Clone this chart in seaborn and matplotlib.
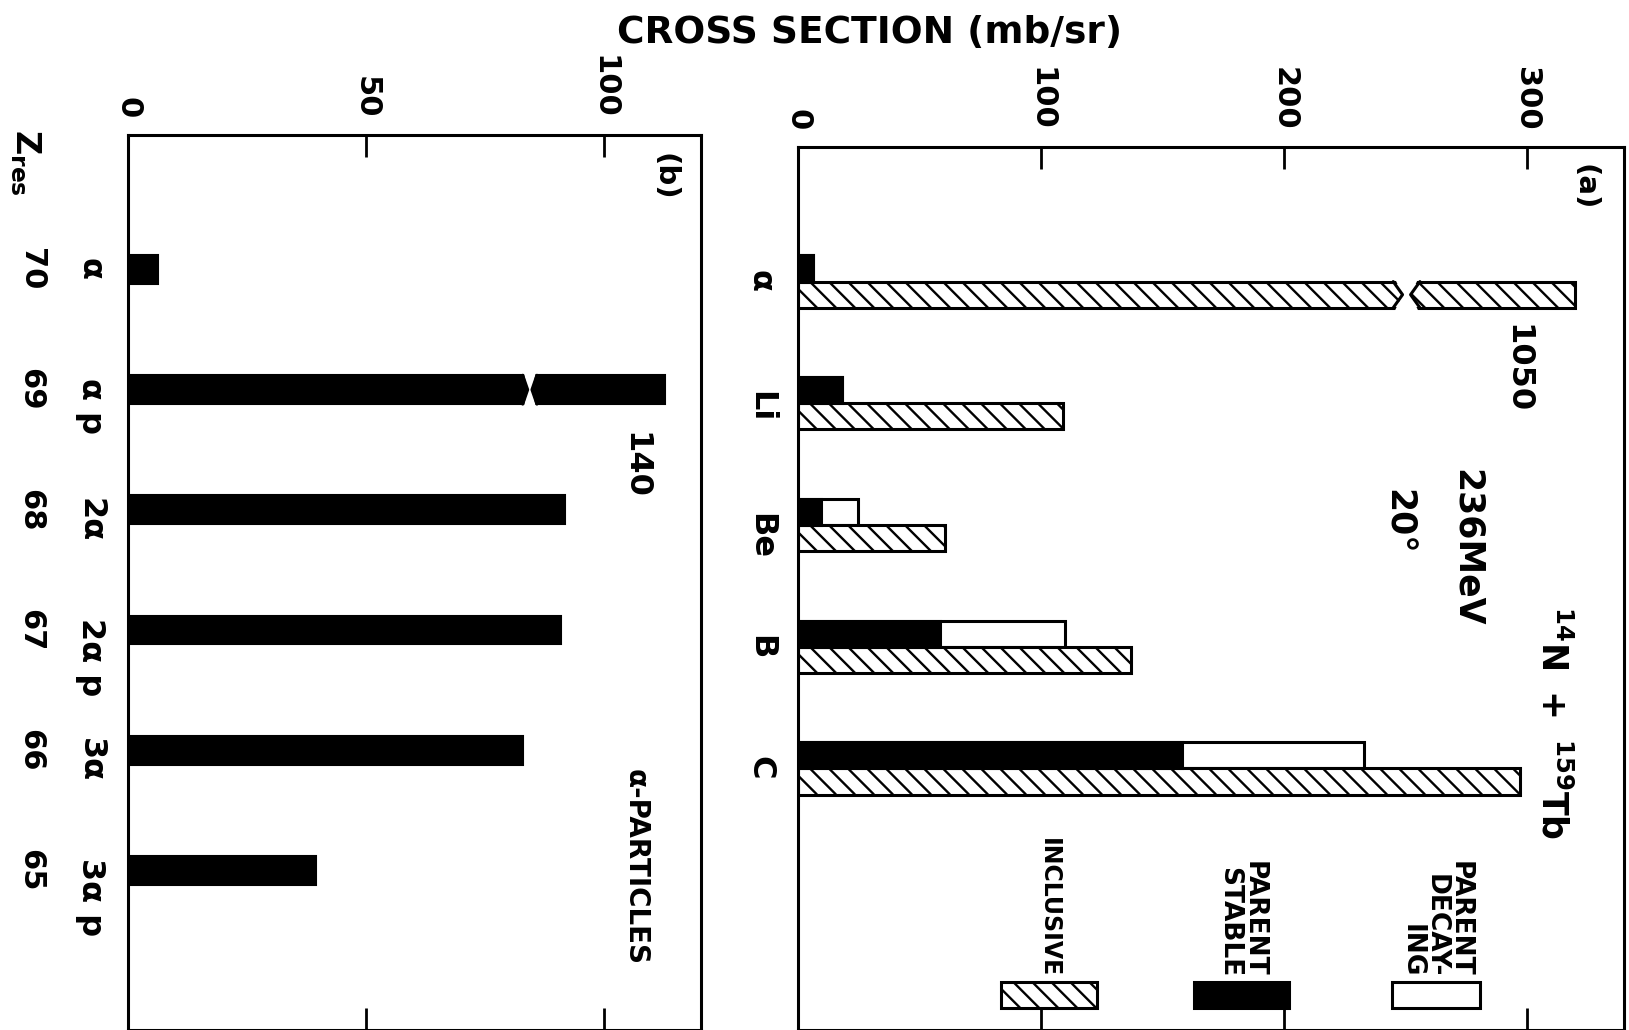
import numpy as np
import pandas as pd
import matplotlib
matplotlib.use("Agg")
import matplotlib.pyplot as plt
import seaborn as sns
from matplotlib.patches import Rectangle, Polygon
from matplotlib.lines import Line2D
from matplotlib.transforms import blended_transform_factory, IdentityTransform

# ---------------- data ----------------
ejectiles = ["α", "Li", "Be", "B", "C"]
inclusive = [320, 109, 60.5, 137, 297]      # α bar broken; true value 1050
parent_stable = [6, 18, 9.5, 58.5, 158]
parent_total = [6, 18, 24.5, 110, 233]      # stable + decaying
a_break = [245, 256]
a_true = "1050"

channels = ["α", "α p", "2α", "2α p", "3α", "3α p"]
z_res = ["70", "69", "68", "67", "66", "65"]
alpha_xs = [6.4, 113, 92, 91, 83, 39.5]     # αp bar broken; true value 140
b_break = [83, 86]
b_true = "140"

a_ticks = [0, 100, 200, 300]
b_ticks = [0, 50, 100]

# ---------------- style ----------------
sns.set_theme(style="white")
plt.rcParams["font.family"] = ["DejaVu Sans"]
plt.rcParams["font.weight"] = "bold"
plt.rcParams["mathtext.default"] = "regular"
plt.rcParams["text.color"] = "black"
plt.rcParams["axes.edgecolor"] = "black"
plt.rcParams["axes.linewidth"] = 2.2

W, H = 1629, 1030
fig = plt.figure(figsize=(W / 100, H / 100), dpi=100)
fig.patch.set_facecolor("white")

ax_b = fig.add_axes([128 / W, 0.0, (701 - 128) / W, 1 - 135 / H])
ax_a = fig.add_axes([798 / W, 0.0, (1624 - 798) / W, 1 - 147 / H])

# ---------------- panel (a) ----------------
df_tot = pd.DataFrame({
    "ej": ejectiles * 2,
    "val": parent_total + inclusive,
    "kind": ["parent"] * len(ejectiles) + ["inclusive"] * len(ejectiles),
})
df_st = pd.DataFrame({"ej": ejectiles, "val": parent_stable, "kind": ["parent"] * len(ejectiles)})

hue_order = ["parent", "inclusive"]
n0 = len(ax_a.patches)
sns.barplot(data=df_tot, x="val", y="ej", hue="kind", hue_order=hue_order, order=ejectiles,
            dodge=True, width=0.43, palette={"parent": "white", "inclusive": "white"},
            edgecolor="black", linewidth=2.2, legend=False, ax=ax_a, errorbar=None)
tot_patches = ax_a.patches[n0:]
inc_bars = []
for p in tot_patches:
    yc = p.get_y() + p.get_height() / 2
    if yc > round(yc):
        inc_bars.append(p)
sns.barplot(data=df_st, x="val", y="ej", hue="kind", hue_order=hue_order, order=ejectiles,
            dodge=True, width=0.43, palette={"parent": "black", "inclusive": "black"},
            edgecolor="black", linewidth=2.2, legend=False, ax=ax_a, errorbar=None)

ax_a.set_xlim(0, 340)
ax_a.set_ylim(6.15, -1.106)

# ---------------- panel (b) ----------------
df_b = pd.DataFrame({"ch": channels, "val": alpha_xs})
nb = len(ax_b.patches)
sns.barplot(data=df_b, x="val", y="ch", order=channels, color="black", width=0.24,
            edgecolor="black", linewidth=1.5, ax=ax_b, errorbar=None)
b_patches = ax_b.patches[nb:]
ax_b.set_xlim(0, 120.5)
ax_b.set_ylim(6.33, -1.12)


def manual_hatch(ax, patch, spacing=19.0, lw=1.7):
    """Draw '\\' hatch lines (45 deg, pixel space) clipped to the patch."""
    tr = patch.get_transform()
    path = patch.get_path().transformed(tr)
    (x0, y0), (x1, y1) = path.get_extents().get_points()
    h = y1 - y0
    c = x0 - h
    while c < x1 + spacing:
        ln = Line2D([c, c + h], [y1, y0], transform=IdentityTransform(), color="black",
                    lw=lw, zorder=patch.get_zorder() + 0.1, solid_capstyle="butt")
        ax.add_line(ln)
        ln.set_clip_box(None)
        ln.set_clip_path(patch.get_path(), patch.get_transform())
        c += spacing


for p in inc_bars:
    manual_hatch(ax_a, p)


def draw_break(ax, bar, x0, x1):
    y0 = bar.get_y()
    h = bar.get_height()
    pad = h * 0.25
    d = (x1 - x0) * 0.35
    poly = Polygon([(x0, y0 - pad), (x1, y0 - pad), (x1 - d, y0 + h / 2), (x1, y0 + h + pad),
                    (x0, y0 + h + pad), (x0 + d, y0 + h / 2)],
                   closed=True, facecolor="white", edgecolor="none", zorder=5)
    ax.add_patch(poly)
    ax.plot([x0, x0 + d, x0], [y0, y0 + h / 2, y0 + h], color="black", lw=2.2, zorder=6)
    ax.plot([x1, x1 - d, x1], [y0, y0 + h / 2, y0 + h], color="black", lw=2.2, zorder=6)


alpha_inc = min(inc_bars, key=lambda p: p.get_y())
draw_break(ax_a, alpha_inc, a_break[0], a_break[1])
draw_break(ax_b, b_patches[1], b_break[0], b_break[1])

# ---------------- axes styling ----------------
for ax, ticks in ((ax_a, a_ticks), (ax_b, b_ticks)):
    ax.set_xlabel("")
    ax.set_ylabel("")
    ax.set_xticks(ticks)
    ax.set_xticklabels([str(t) for t in ticks])
    ax.xaxis.set_ticks_position("both")
    ax.tick_params(axis="x", which="both", top=True, bottom=True, labeltop=True, labelbottom=False,
                   direction="in", length=16, width=2.0, labelsize=22, labelrotation=-90, pad=12,
                   colors="black")
    ax.tick_params(axis="y", left=False, right=False, labelsize=23, labelrotation=-90, pad=10,
                   colors="black")
    for s in ax.spines.values():
        s.set_visible(True)
        s.set_color("black")
        s.set_linewidth(2.2)
    ax.set_facecolor("white")
    ax.grid(False)

for lab in ax_a.get_xticklabels() + ax_b.get_xticklabels():
    lab.set_verticalalignment("bottom")
    lab.set_fontweight("bold")
for lab in ax_a.get_yticklabels() + ax_b.get_yticklabels():
    lab.set_fontweight("bold")

# ---------------- texts ----------------
fig.text(0.534, 0.968, "CROSS SECTION (mb/sr)", fontsize=27, ha="center", va="center")
fig.text(0.0153, 0.842, "$Z_{res}$", fontsize=24, ha="center", va="center", rotation=-90)
tb = blended_transform_factory(fig.transFigure, ax_b.transData)
for i, z in enumerate(z_res):
    fig.text(0.0191, i, z, fontsize=22, ha="center", va="center", rotation=-90, transform=tb)

fig.text(0.9726, 0.818, "(a)", fontsize=21, rotation=-90, ha="center", va="center")
fig.text(0.408, 0.828, "(b)", fontsize=21, rotation=-90, ha="center", va="center")
fig.text(0.931, 0.642, a_true, fontsize=23, rotation=-90, ha="center", va="center")
fig.text(0.390, 0.548, b_true, fontsize=23, rotation=-90, ha="center", va="center")
fig.text(0.9005, 0.468, "236MeV", fontsize=25, rotation=-90, ha="center", va="center")
fig.text(0.858, 0.4935, "20°", fontsize=25, rotation=-90, ha="center", va="center")
fig.text(0.953, 0.2987, "$^{14}N\\ +\\ ^{159}Tb$", fontsize=25, rotation=-90,
         ha="center", va="center")
fig.text(0.390, 0.158, "α-PARTICLES", fontsize=20, rotation=-90, ha="center", va="center")

# legend (custom, rotated)
leg_y0, leg_y1 = 0.025, 0.054
legend_items = [
    ("INCLUSIVE", 0.246, 0.362, "white", True, 17),
    ("PARENT\nSTABLE", 0.479, 0.595, "black", False, 19),
    ("PARENT\nDECAY-\nING", 0.719, 0.826, "white", False, 19),
]
for txt, x0, x1, fc, hatched, fs in legend_items:
    r = Rectangle((x0, leg_y0), x1 - x0, leg_y1 - leg_y0, transform=ax_a.transAxes,
                  facecolor=fc, edgecolor="black", lw=2.2, zorder=4)
    ax_a.add_patch(r)
    if hatched:
        manual_hatch(ax_a, r)
    ax_a.text((x0 + x1) / 2, leg_y1 + 0.006, txt, transform=ax_a.transAxes, fontsize=fs,
              rotation=-90, ha="center", va="bottom", multialignment="right", linespacing=0.9)

fig.savefig("out.png", dpi=100, facecolor="white")
